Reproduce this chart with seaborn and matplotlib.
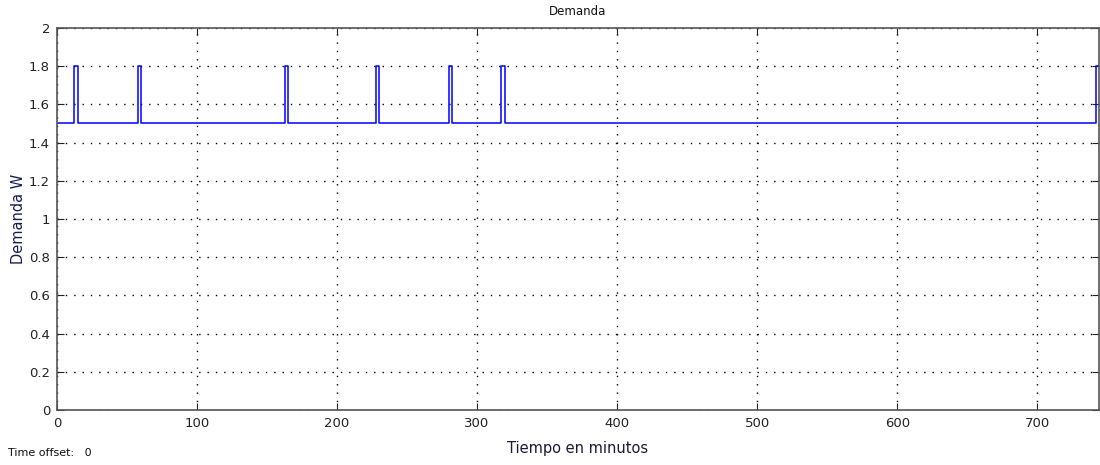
import numpy as np
import pandas as pd
import seaborn as sns
import matplotlib
matplotlib.use("Agg")
import matplotlib.pyplot as plt

# Demand pulses (minutes)
pulse_start = [12, 58, 163, 228, 280, 317, 742]
pulse_end = [15, 60, 165, 230, 282, 320, 746]
base_level = 1.5
peak_level = 1.8
t_end = 746

y_ticks = [0, 0.2, 0.4, 0.6, 0.8, 1, 1.2, 1.4, 1.6, 1.8, 2]
y_tick_labels = ["0", "0.2", "0.4", "0.6", "0.8", "1", "1.2", "1.4", "1.6", "1.8", "2"]
x_ticks = [0, 100, 200, 300, 400, 500, 600, 700]

# build the step signal from the pulse edges
t = [0]
v = [base_level]
for s, e in zip(pulse_start, pulse_end):
    t += [s, e]
    v += [peak_level, base_level]
t.append(t_end)
v.append(v[-1])
df = pd.DataFrame({"tiempo": t, "demanda": v})

sns.set_style("white")
plt.rcParams["font.family"] = ["DejaVu Sans"]

fig = plt.figure(figsize=(11, 4.65), dpi=100)
ax = fig.add_axes([0.0518, 0.1183, 0.9472, 0.8215])

sns.lineplot(data=df, x="tiempo", y="demanda", ax=ax, color="#0000ff",
             linewidth=1.1, drawstyle="steps-post", estimator=None, sort=False)

ax.set_xlim(0, 744)
ax.set_ylim(0, 2)
ax.set_xticks(x_ticks)
ax.set_yticks(y_ticks)
ax.set_yticklabels(y_tick_labels)
ax.grid(True, linestyle=(0, (1, 5)), color="black", linewidth=1.0)
ax.tick_params(direction="in", length=5, labelsize=9.5, colors="#222222",
               pad=5, top=True, right=True, bottom=True, left=True)
for sp in ax.spines.values():
    sp.set_color("#555555")
    sp.set_linewidth(1.2)

ax.set_title("Demanda", fontsize=8.5, pad=9, color="#111111")
ax.set_xlabel("Tiempo en minutos", fontsize=10.5, color="#1a1a33", labelpad=8)
ax.set_ylabel("Demanda W", fontsize=10.5, color="#1a1a55", labelpad=2)
fig.text(0.007, 0.02, "Time offset:   0", fontsize=8, color="#111111")

fig.savefig("out.png", dpi=100)
